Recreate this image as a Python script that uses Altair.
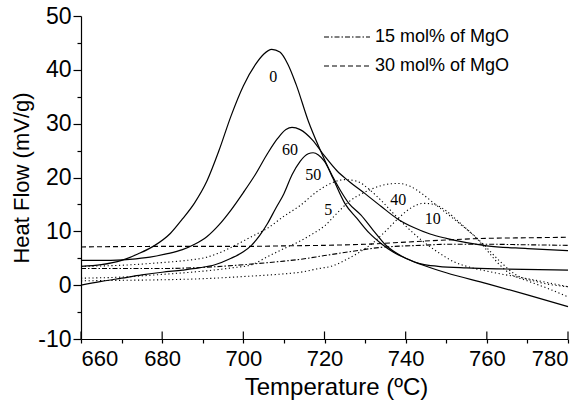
import altair as alt
import pandas as pd

# ---------------- data (Temperature in °C, Heat Flow in mV/g) ----------------
t_0 = [660, 665, 670, 674, 678, 682, 685, 688, 691, 694, 697, 700, 703, 705, 707,
       709, 711, 713, 716, 719, 722, 725, 728, 731, 734, 737, 740, 744, 748, 755, 765, 780]
h_0 = [3.5, 3.8, 4.6, 5.8, 7.3, 9.6, 12.3, 15.3, 19.3, 25.0, 31.5, 37.0, 41.0, 42.9, 43.8,
       43.3, 41.0, 37.3, 30.5, 25.0, 20.0, 15.2, 12.4, 9.7, 7.7, 6.1, 5.0, 3.9, 3.5, 3.2, 3.0, 2.8]

t_60 = [660, 666, 672, 677, 681, 685, 688, 691, 694, 697, 700, 703, 706, 708.5, 710.5, 712,
        714, 717, 720, 723, 726, 730, 734, 738, 742, 746, 750, 755, 760, 770, 780]
h_60 = [4.6, 4.6, 4.8, 5.2, 5.8, 6.6, 7.6, 9.0, 11.2, 14.0, 17.2, 20.6, 24.5, 27.3, 28.9, 29.3,
        28.9, 27.0, 24.0, 21.3, 19.3, 17.0, 14.6, 12.3, 10.7, 9.5, 8.7, 7.9, 7.3, 6.8, 6.4]

t_50 = [660, 665, 670, 675, 680, 685, 689, 693, 697, 700, 702, 704, 706, 708, 710, 712, 714,
        716, 717.2, 718.5, 720, 722, 724, 726, 729, 732, 735, 740, 744, 750, 760, 770, 780]
h_50 = [0.0, 0.7, 1.3, 1.9, 2.4, 2.8, 3.2, 3.8, 5.0, 6.2, 7.4, 9.2, 11.5, 14.3, 17.0, 20.5, 23.0,
        24.4, 24.6, 24.2, 23.0, 20.2, 17.5, 15.2, 13.0, 10.2, 7.5, 5.0, 3.8, 2.3, 0.3, -1.8, -4.0]

t_5 = [660, 670, 680, 686, 691, 695, 699, 702, 706, 710, 714, 718, 721.5, 725, 728, 731,
       734, 737, 740, 744, 748, 752, 756, 760, 770, 780]
h_5 = [3.5, 3.7, 4.2, 4.6, 5.2, 6.3, 7.8, 9.0, 10.6, 12.8, 14.8, 17.3, 18.9, 19.6, 19.3, 17.8,
       15.7, 13.3, 11.0, 8.3, 6.1, 4.3, 3.3, 2.6, 1.2, -0.3]

t_40 = [660, 670, 680, 690, 697, 702, 706, 710, 714, 717, 720, 723, 726, 730, 734, 738, 741,
        744, 747, 750, 754, 757.5, 760, 763, 766, 770, 775, 780]
h_40 = [1.3, 1.5, 2.0, 2.6, 3.2, 3.8, 5.3, 6.8, 8.2, 9.5, 11.0, 13.3, 15.5, 17.3, 18.5, 18.9, 18.4,
        17.0, 15.2, 13.4, 11.0, 8.7, 6.5, 3.9, 2.0, 0.8, -0.6, -2.2]

t_10 = [660, 670, 680, 690, 700, 710, 714, 718, 722, 726, 729, 732, 735, 738.6, 741, 744.5,
        747, 750, 753, 756, 759, 763, 767, 772, 780]
h_10 = [0.8, 0.9, 1.0, 1.2, 1.6, 2.1, 2.4, 3.0, 3.6, 5.0, 6.3, 7.9, 10.0, 12.7, 14.2, 15.2,
        15.0, 13.8, 11.8, 9.8, 7.7, 4.6, 2.0, 0.7, -0.3]

t_15 = [660, 670, 680, 690, 700, 709, 714, 720, 727, 733.6, 740, 744, 750, 760, 770, 780]
h_15 = [3.1, 3.1, 3.1, 3.3, 3.8, 4.4, 4.8, 5.5, 6.3, 7.0, 7.3, 7.4, 7.6, 7.6, 7.5, 7.4]

t_30 = [660, 680, 700, 710, 720, 730, 740, 750, 760, 770, 780]
h_30 = [7.1, 7.2, 7.2, 7.3, 7.4, 7.6, 8.0, 8.4, 8.7, 8.8, 8.9]

label_text = ["0", "60", "50", "5", "40", "10"]
label_t = [707.4, 711.5, 717.2, 720.9, 738.2, 746.7]
label_h = [38.6, 25.1, 20.4, 13.9, 15.9, 12.2]

major_ticks_t = [660, 680, 700, 720, 740, 760, 780]

# ---------------- build tables ----------------
def frame(d):
    rows = []
    for name, (ts, hs) in d.items():
        for i, (t, h) in enumerate(zip(ts, hs)):
            rows.append({"name": name, "T": t, "H": h, "order": i})
    return pd.DataFrame(rows)

solid_df = frame({"0": (t_0, h_0), "60": (t_60, h_60), "50": (t_50, h_50)})
dotted_df = frame({"5": (t_5, h_5), "40": (t_40, h_40), "10": (t_10, h_10)})
mgo_df = frame({"15 mol% of MgO": (t_15, h_15), "30 mol% of MgO": (t_30, h_30)})
label_df = pd.DataFrame({"text": label_text, "T": label_t, "H": label_h})
tick_df = pd.DataFrame({"T": major_ticks_t, "H": [-10] * len(major_ticks_t),
                        "H2": [-8.6] * len(major_ticks_t)})

xs = alt.Scale(domain=[660, 780], nice=False, zero=False)
ys = alt.Scale(domain=[-10, 50], nice=False, zero=False)

x_axis = alt.Axis(
    values=list(range(660, 781, 10)),
    labelExpr="datum.value % 20 === 0 ? toString(datum.value) : ''",
    tickSize=4,
    labelPadding=5, labelFontSize=22, titleFontSize=24,
    titleX=255, titleY=48, titleBaseline="middle", titleFontWeight="normal",
)
y_axis = alt.Axis(
    values=list(range(-10, 51, 5)),
    labelExpr="datum.value % 10 === 0 ? toString(datum.value) : ''",
    tickSize={"condition": {"test": "datum.value % 10 === 0", "value": 8}, "value": 4},
    labelPadding=2, labelFontSize=23, titleFontSize=22,
    titleX=-60, titleY=161.5, titleAngle=-90, titleAlign="center",
    titleBaseline="middle", titleFontWeight="normal",
)

x_enc = alt.X("T:Q", scale=xs, axis=x_axis, title="Temperature (ºC)")
y_enc = alt.Y("H:Q", scale=ys, axis=y_axis, title="Heat Flow (mV/g)")

solid = alt.Chart(solid_df).mark_line(
    color="black", strokeWidth=1.2, interpolate="monotone"
).encode(x=x_enc, y=y_enc, detail="name:N", order="order:Q")

dotted = alt.Chart(dotted_df).mark_line(
    color="black", strokeWidth=1.1, strokeDash=[1.2, 2.6], interpolate="monotone"
).encode(x=x_enc, y=y_enc, detail="name:N", order="order:Q")

mgo = alt.Chart(mgo_df).mark_line(
    color="black", strokeWidth=1.1, interpolate="monotone"
).encode(
    x=x_enc, y=y_enc, order="order:Q",
    strokeDash=alt.StrokeDash(
        "name:N",
        scale=alt.Scale(domain=["15 mol% of MgO", "30 mol% of MgO"],
                        range=[[5, 2, 1.5, 2], [5, 3]]),
        legend=alt.Legend(
            title=None, orient="none", legendX=242, legendY=8,
            symbolType="stroke", symbolSize=2116, symbolStrokeWidth=1.1,
            symbolStrokeColor="black", labelFontSize=18, labelFont="Liberation Sans",
            labelColor="black", labelOffset=4, rowPadding=3, clipHeight=26,
        ),
    ),
)

labels = alt.Chart(label_df).mark_text(
    font="Liberation Serif", fontSize=16, color="black"
).encode(x=x_enc, y=y_enc, text="text:N")

ticks = alt.Chart(tick_df).mark_rule(color="black", strokeWidth=1.2).encode(
    x=x_enc, y=y_enc, y2="H2:Q"
)

chart = alt.layer(solid, dotted, mgo, labels, ticks).properties(
    width=487, height=323,
    padding={"left": 81, "top": 16, "right": 19, "bottom": 70},
    autosize=alt.AutoSizeParams(type="none"),
).configure_view(stroke=None).configure_axis(
    grid=False, domainColor="black", domainWidth=1.2, tickColor="black", tickWidth=1.2,
    labelColor="black", titleColor="black", labelFont="Liberation Sans",
    titleFont="Liberation Sans",
)

chart.save("out.html", embed_options={"renderer": "svg", "actions": False})
